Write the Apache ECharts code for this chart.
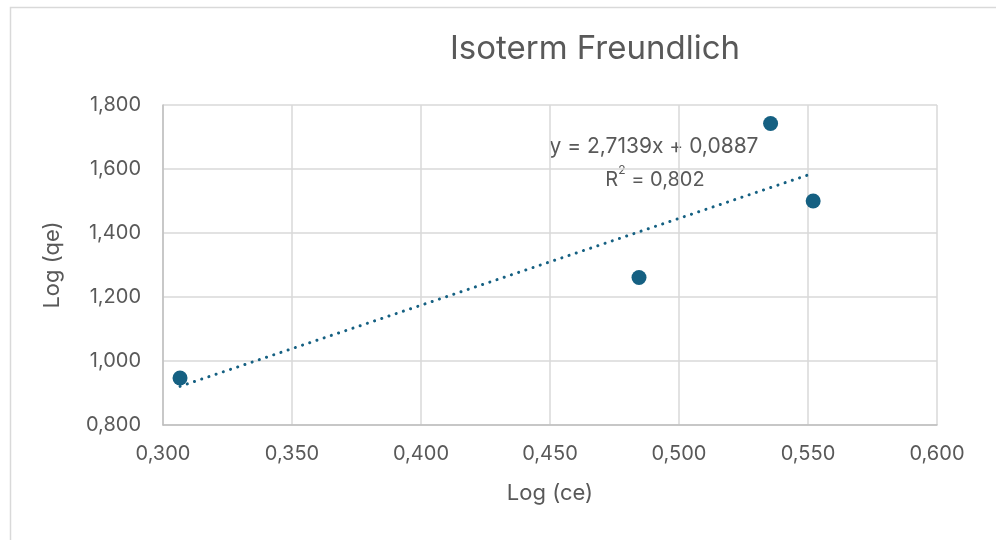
<!DOCTYPE html>
<html>
<head>
<meta charset="utf-8">
<script src="https://cdn.jsdelivr.net/npm/echarts@6/dist/echarts.min.js"></script>
<style>
  html, body { margin: 0; padding: 0; background: #fff; }
  #chart { width: 996px; height: 540px; }
</style>
</head>
<body>
<div id="chart"></div>
<script>
// Freundlich isotherm: log(ce) vs log(qe)
const logCe = [0.3066, 0.4845, 0.5355, 0.5520];
const logQe = [0.947, 1.261, 1.742, 1.500];

// Linear trendline reported for the data
const slope = 2.7139;
const intercept = 0.0887;
const rSquared = 0.802;

const xTicks = { min: 0.3, max: 0.6, interval: 0.05 };
const yTicks = { min: 0.8, max: 1.8, interval: 0.2 };

const fmt = v => v.toFixed(3).replace('.', ',');
const fmt4 = v => v.toFixed(4).replace('.', ',');

const xLo = Math.min(...logCe), xHi = Math.max(...logCe);
const trend = [[xLo, slope * xLo + intercept], [xHi, slope * xHi + intercept]];

const textColor = '#595959';
const color = '#156082';
const font = 'Inter, "Open Sans", "Noto Sans", sans-serif';

const chart = echarts.init(document.getElementById('chart'));
chart.setOption({
  backgroundColor: '#fff',
  animation: false,
  textStyle: { fontFamily: font },
  title: {
    text: 'Isoterm Freundlich',
    left: 590, top: 28, textAlign: 'center',
    textStyle: { fontSize: 33, fontWeight: 'normal', color: textColor, fontFamily: font }
  },
  grid: { left: 163, right: 59, top: 105, bottom: 115 },
  xAxis: {
    type: 'value',
    min: xTicks.min, max: xTicks.max, interval: xTicks.interval,
    name: 'Log (ce)', nameLocation: 'middle', nameGap: 57,
    nameTextStyle: { fontSize: 22, color: textColor },
    axisLine: { show: true, lineStyle: { color: '#bfbfbf', width: 1.5 } },
    axisTick: { show: false },
    axisLabel: { formatter: fmt, fontSize: 20, color: textColor, margin: 19 },
    splitLine: { show: true, lineStyle: { color: '#d9d9d9', width: 1.5 } }
  },
  yAxis: {
    type: 'value',
    min: yTicks.min, max: yTicks.max, interval: yTicks.interval,
    name: 'Log (qe)', nameLocation: 'middle', nameGap: 100, nameRotate: 90,
    nameTextStyle: { fontSize: 22, color: textColor },
    axisLine: { show: true, lineStyle: { color: '#bfbfbf', width: 1.5 } },
    axisTick: { show: false },
    axisLabel: { formatter: fmt, fontSize: 20, color: textColor, margin: 22 },
    splitLine: { show: true, lineStyle: { color: '#d9d9d9', width: 1.5 } }
  },
  series: [
    {
      type: 'scatter',
      data: logCe.map((x, i) => [x, logQe[i]]),
      symbol: 'circle', symbolSize: 15,
      itemStyle: { color: color, opacity: 1 },
      z: 3
    },
    {
      type: 'line',
      data: trend,
      showSymbol: false, symbol: 'none',
      lineStyle: { color: color, width: 3, type: [0.1, 7.5], cap: 'round' },
      z: 4
    }
  ],
  graphic: [
    {
      type: 'rect', silent: true,
      shape: { x: 10.5, y: 7.5, width: 1000, height: 600 },
      style: { fill: 'none', stroke: '#d9d9d9', lineWidth: 1.5 }
    },
    {
      type: 'text', x: 654, y: 136,
      style: {
        text: 'y = ' + fmt4(slope) + 'x + ' + fmt4(intercept),
        fontSize: 21, fontFamily: font, fill: textColor, align: 'center'
      }
    },
    {
      type: 'text', x: 655, y: 164,
      style: {
        text: '{n|R}{s|2}{n| = ' + fmt(rSquared) + '}',
        fontFamily: font, fill: textColor, align: 'center',
        rich: {
          n: { fontSize: 20, fontFamily: font, color: textColor, verticalAlign: 'bottom', lineHeight: 26 },
          s: { fontSize: 12, fontFamily: font, color: textColor, verticalAlign: 'top', lineHeight: 26, padding: [0, 0, 12, 0] }
        }
      }
    }
  ]
});
</script>
</body>
</html>
